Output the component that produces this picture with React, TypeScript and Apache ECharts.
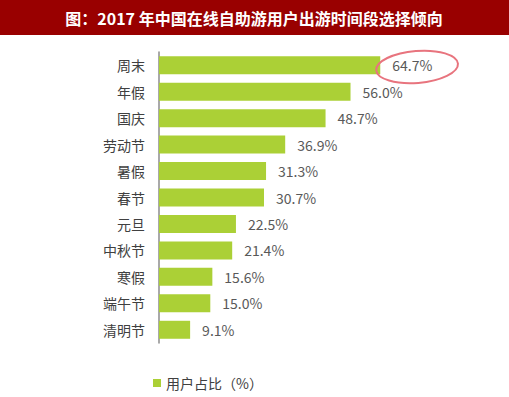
import React, { useEffect, useRef } from "react";
import * as echarts from "echarts";

const categories = ["周末", "年假", "国庆", "劳动节", "暑假", "春节", "元旦", "中秋节", "寒假", "端午节", "清明节"];
const values = [64.7, 56.0, 48.7, 36.9, 31.3, 30.7, 22.5, 21.4, 15.6, 15.0, 9.1];
const seriesName = "用户占比（%）";
const titleText = "图：2017 年中国在线自助游用户出游时间段选择倾向";

export default function App() {
  const ref = useRef<HTMLDivElement>(null);
  useEffect(() => {
    if (!ref.current) return;
    const chart = echarts.init(ref.current, undefined, { renderer: "svg" });
    chart.setOption({
      animation: false,
      backgroundColor: "#ffffff",
      grid: { left: 159, top: 52, height: 291, width: 342, containLabel: false },
      legend: {
        data: [seriesName],
        left: 148,
        top: 371,
        itemWidth: 8,
        itemHeight: 8,
        itemGap: 5,
        icon: "rect",
        textStyle: { color: "#404040", fontSize: 14, fontFamily: "Noto Sans CJK SC" },
      },
      xAxis: {
        type: "value",
        min: 0,
        max: 100,
        show: false,
      },
      yAxis: {
        type: "category",
        data: categories,
        inverse: true,
        axisLine: { show: true, lineStyle: { color: "#8c8c8c", width: 1.5 } },
        axisTick: { show: false },
        axisLabel: { color: "#404040", fontSize: 14, margin: 14, fontFamily: "Noto Sans CJK SC" },
      },
      series: [
        {
          name: seriesName,
          type: "bar",
          data: values,
          barCategoryGap: "32%",
          itemStyle: { color: "#abd036" },
          label: {
            show: true,
            position: "right",
            distance: 12,
            formatter: (p: any) => p.value.toFixed(1) + "%",
            color: "#595959",
            fontSize: 14,
            fontFamily: "Noto Sans CJK SC",
          },
        },
      ],
      graphic: [
        {
          type: "rect",
          shape: { x: 0, y: 0, width: 509, height: 35 },
          style: { fill: "#990000" },
          z: 0,
        },
        {
          type: "text",
          x: 254,
          y: 18,
          style: {
            text: titleText,
            fill: "#ffffff",
            font: "bold 16px 'Noto Sans CJK SC'",
            align: "center",
            verticalAlign: "middle",
          },
          z: 1,
        },
        {
          type: "ellipse",
          shape: { cx: 417, cy: 67, rx: 41, ry: 16 },
          rotation: 0.08,
          originX: 417,
          originY: 67,
          style: { fill: "none", stroke: "#e8747e", lineWidth: 2 },
          z: 10,
        },
      ],
    });
    return () => chart.dispose();
  }, []);
  return <div ref={ref} style={{ position: "absolute", left: 0, top: 0, width: 509, height: 397 }} />;
}
